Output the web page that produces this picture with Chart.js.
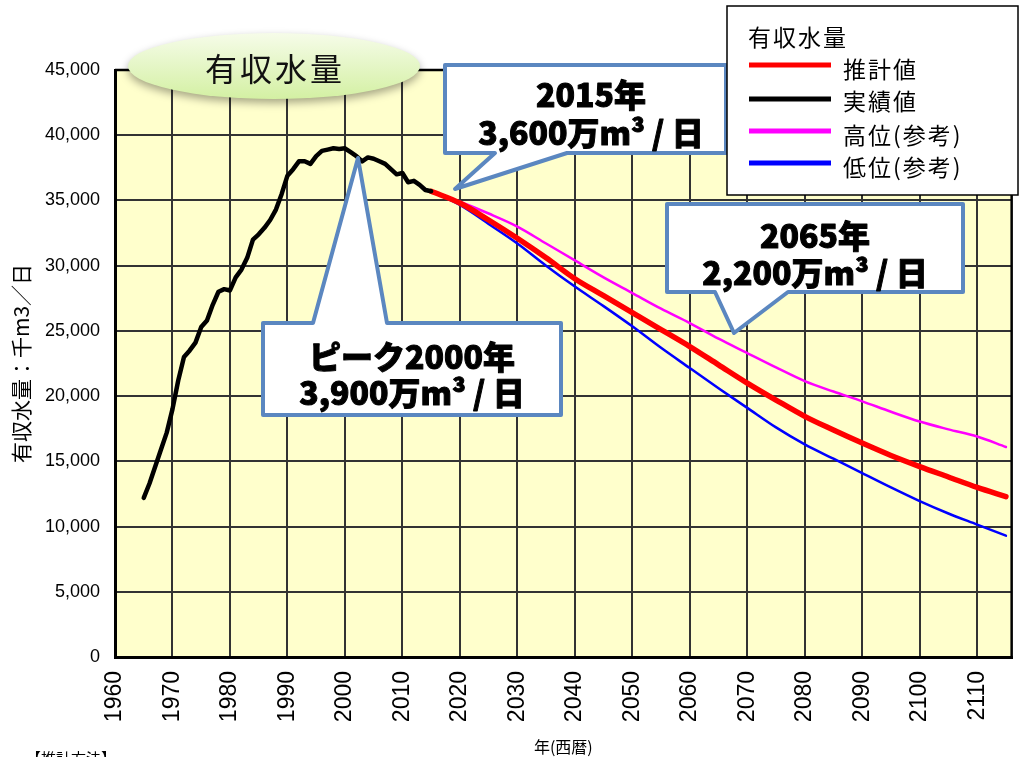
<!DOCTYPE html>
<html>
<head>
<meta charset="utf-8">
<script src="https://cdn.jsdelivr.net/npm/chart.js@4.4.0/dist/chart.umd.min.js"></script>
<style>
  html, body { margin: 0; padding: 0; background: #fff; }
  #wrap { width: 1019px; height: 757px; }
</style>
</head>
<body>
<div id="wrap"><canvas id="myChart" width="1019" height="757"></canvas></div>
<script>
// actual (実績値), 1965-2015, 千m3/日
const actualYears = [1965, 1966, 1967, 1968, 1969, 1970, 1971, 1972, 1973, 1974,
  1975, 1976, 1977, 1978, 1979, 1980, 1981, 1982, 1983, 1984,
  1985, 1986, 1987, 1988, 1989, 1990, 1991, 1992, 1993, 1994,
  1995, 1996, 1997, 1998, 1999, 2000, 2001, 2002, 2003, 2004,
  2005, 2006, 2007, 2008, 2009, 2010, 2011, 2012, 2013, 2014, 2015];
const actualValues = [12200, 13300, 14600, 15900, 17200, 19000, 21200, 23000, 23500, 24100,
  25300, 25800, 27000, 28000, 28200, 28100, 29100, 29700, 30600, 32000,
  32400, 32900, 33500, 34300, 35500, 36900, 37400, 38000, 38000, 37800,
  38400, 38800, 38900, 39000, 38950, 39000, 38700, 38400, 38000, 38300,
  38200, 38000, 37800, 37400, 37000, 37100, 36400, 36500, 36200, 35800, 35700];

// projections 2015-2115
const projYears = [2015, 2020, 2025, 2030, 2035, 2040, 2045, 2050, 2055, 2060, 2065,
  2070, 2075, 2080, 2085, 2090, 2095, 2100, 2105, 2110, 2115];
const estValues = [35700, 34800, 33500, 32100, 30600, 29000, 27700, 26400, 25100, 23800, 22400,
  21000, 19700, 18450, 17400, 16400, 15450, 14600, 13800, 13000, 12300];
const highValues = [35700, 34900, 34000, 33000, 31700, 30400, 29100, 27900, 26700, 25600, 24400,
  23300, 22200, 21150, 20350, 19600, 18800, 18050, 17450, 16900, 16100];
const lowValues = [35700, 34650, 33200, 31700, 30000, 28400, 26900, 25350, 23700, 22150, 20600,
  19100, 17600, 16300, 15200, 14100, 13000, 11950, 11000, 10150, 9300];

const seriesLabels = ['推計値', '実績値', '高位(参考)', '低位(参考)'];
const seriesColors = ['#ff0000', '#000000', '#ff00ff', '#0000ff'];

const cjk = '"Noto Sans CJK JP", sans-serif';
const latin = '"Liberation Sans", Arial, sans-serif';

function pairs(xs, ys) {
  return xs.map((x, i) => ({ x: x, y: ys[i] }));
}

function drawCallout(ctx, pts, lines, cx, ys) {
  ctx.save();
  ctx.beginPath();
  pts.forEach((p, i) => i ? ctx.lineTo(p[0], p[1]) : ctx.moveTo(p[0], p[1]));
  ctx.closePath();
  ctx.fillStyle = '#fff';
  ctx.fill();
  ctx.lineWidth = 4;
  ctx.strokeStyle = '#5b87c0';
  ctx.lineJoin = 'round';
  ctx.stroke();
  ctx.fillStyle = '#000';
  ctx.strokeStyle = '#000';
  ctx.lineWidth = 1;
  ctx.font = '900 32px ' + cjk;
  ctx.textAlign = 'center';
  ctx.textBaseline = 'middle';
  lines.forEach((t, i) => {
    ctx.fillText(t, cx, ys[i]);
    ctx.strokeText(t, cx, ys[i]);
  });
  ctx.restore();
}

const decor = {
  id: 'decor',
  beforeDraw(chart) {
    const { ctx, chartArea: a } = chart;
    ctx.save();
    ctx.fillStyle = '#ffffcc';
    ctx.fillRect(a.left, a.top, a.right - a.left, a.bottom - a.top);
    ctx.restore();
  },
  beforeDatasetsDraw(chart) {
    const { ctx, chartArea: a } = chart;
    ctx.save();
    ctx.strokeStyle = '#000';
    ctx.lineWidth = 2.5;
    ctx.beginPath();
    ctx.moveTo(a.left, a.top);
    ctx.lineTo(a.right, a.top);
    ctx.lineTo(a.right, a.bottom);
    ctx.stroke();
    ctx.restore();
  },
  afterDraw(chart) {
    const ctx = chart.ctx;

    // title ellipse
    ctx.save();
    const g = ctx.createLinearGradient(0, 33, 0, 100);
    g.addColorStop(0, '#f6fce9');
    g.addColorStop(1, '#d3f0a2');
    ctx.shadowColor = 'rgba(0,0,0,0.35)';
    ctx.shadowBlur = 8;
    ctx.shadowOffsetY = 4;
    ctx.beginPath();
    ctx.ellipse(274, 66, 146, 33, 0, 0, Math.PI * 2);
    ctx.fillStyle = g;
    ctx.fill();
    ctx.shadowColor = 'transparent';
    ctx.fillStyle = '#111';
    ctx.font = '32px ' + cjk;
    ctx.textAlign = 'center';
    ctx.textBaseline = 'middle';
    ctx.letterSpacing = '3px';
    ctx.fillText('有収水量', 275, 69);
    ctx.restore();

    // callouts
    drawCallout(ctx, [[445, 65], [726, 65], [726, 153], [567, 153], [455, 189], [495, 153], [445, 153]],
      ['2015年', '3,600万m³ / 日'], 591, [95, 133]);
    drawCallout(ctx, [[667, 204], [963, 204], [963, 292], [788, 292], [734, 333], [715, 292], [667, 292]],
      ['2065年', '2,200万m³ / 日'], 815, [236, 273]);
    drawCallout(ctx, [[263, 323], [313, 323], [358, 158], [387, 323], [561, 323], [561, 415], [263, 415]],
      ['ピーク2000年', '3,900万m³ / 日'], 412, [357, 393]);

    // legend
    ctx.save();
    ctx.fillStyle = '#fff';
    ctx.fillRect(727, 6, 291, 189);
    ctx.strokeStyle = '#000';
    ctx.lineWidth = 1.5;
    ctx.strokeRect(727, 6, 291, 189);
    ctx.fillStyle = '#000';
    ctx.font = '23px ' + cjk;
    ctx.textBaseline = 'middle';
    ctx.letterSpacing = '2px';
    ctx.fillText('有収水量', 748, 37);
    const lineY = [65, 99, 131, 163];
    const textY = [69, 101, 135, 167];
    seriesLabels.forEach((lab, i) => {
      ctx.strokeStyle = seriesColors[i];
      ctx.lineWidth = 5;
      ctx.beginPath();
      ctx.moveTo(749, lineY[i]);
      ctx.lineTo(831, lineY[i]);
      ctx.stroke();
      ctx.fillStyle = '#000';
      ctx.fillText(lab, 843, textY[i]);
    });
    ctx.restore();

    // cut-off note at bottom
    ctx.save();
    ctx.fillStyle = '#000';
    ctx.font = '15px ' + cjk;
    ctx.textBaseline = 'top';
    ctx.fillText('【推計方法】', 26, 751);
    ctx.restore();
  }
};

const ctx = document.getElementById('myChart').getContext('2d');
const myChart = new Chart(ctx, {
  type: 'line',
  data: {
    datasets: [
      {
        label: seriesLabels[1],
        data: pairs(actualYears, actualValues),
        borderColor: seriesColors[1],
        borderWidth: 4.5,
        order: 0
      },
      {
        label: seriesLabels[0],
        data: pairs(projYears, estValues),
        borderColor: seriesColors[0],
        borderWidth: 5.5,
        cubicInterpolationMode: 'monotone',
        order: 1
      },
      {
        label: seriesLabels[2],
        data: pairs(projYears, highValues),
        borderColor: seriesColors[2],
        borderWidth: 2.5,
        cubicInterpolationMode: 'monotone',
        order: 2
      },
      {
        label: seriesLabels[3],
        data: pairs(projYears, lowValues),
        borderColor: seriesColors[3],
        borderWidth: 2.5,
        cubicInterpolationMode: 'monotone',
        order: 3
      }
    ]
  },
  options: {
    responsive: false,
    animation: false,
    layout: { padding: { top: 70, right: 6, left: 0, bottom: 0 } },
    elements: {
      point: { radius: 0 },
      line: { fill: false, borderJoinStyle: 'round', borderCapStyle: 'round' }
    },
    plugins: {
      legend: { display: false },
      tooltip: { enabled: false }
    },
    scales: {
      x: {
        type: 'linear',
        min: 1960,
        max: 2116,
        afterBuildTicks: (s) => { s.ticks = s.ticks.filter(t => t.value % 10 === 0); },
        afterFit: (s) => { s.height = 100; },
        ticks: {
          stepSize: 10,
          autoSkip: false,
          minRotation: 90,
          maxRotation: 90,
          padding: 14,
          color: '#000',
          font: { family: latin, size: 23 },
          callback: (v) => String(v)
        },
        grid: { color: '#333', lineWidth: 2, drawTicks: false },
        border: { color: '#000', width: 3 },
        title: {
          display: true,
          text: '年(西暦)',
          color: '#000',
          font: { family: cjk, size: 16 },
          padding: { top: 0, bottom: 0 }
        }
      },
      y: {
        min: 0,
        max: 45000,
        afterFit: (s) => { s.width = 115; },
        ticks: {
          stepSize: 5000,
          padding: 15,
          color: '#000',
          font: { family: latin, size: 18 },
          callback: (v) => v.toLocaleString('en-US')
        },
        grid: { color: '#333', lineWidth: 2, drawTicks: false },
        border: { color: '#000', width: 3 },
        title: {
          display: true,
          text: '有収水量：千m3／日',
          color: '#000',
          font: { family: cjk, size: 21 },
          padding: { top: 8, bottom: 0 }
        }
      }
    }
  },
  plugins: [decor]
});
</script>
</body>
</html>
